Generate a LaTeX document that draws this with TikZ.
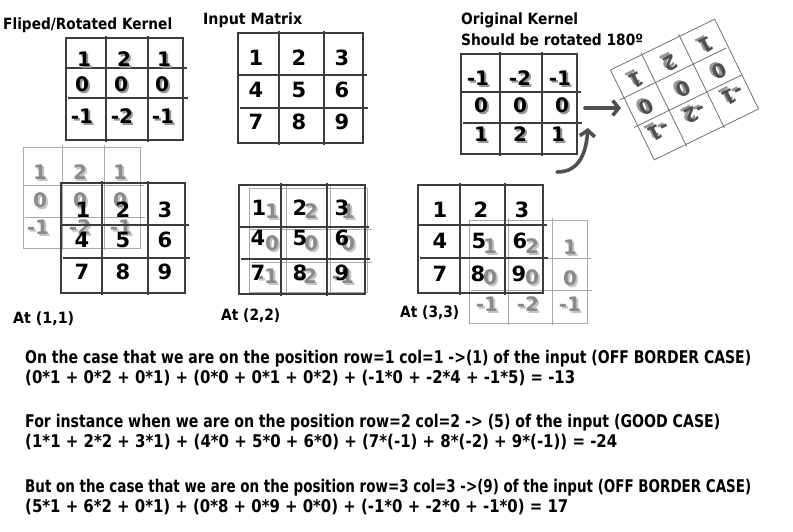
\documentclass[tikz,border=0pt]{standalone}
\usepackage{fontspec}
\setmainfont{DejaVu Sans}
\usepackage{graphicx}
\usetikzlibrary{arrows.meta}
\definecolor{gridc}{HTML}{3C3C3C}
\definecolor{lgrid}{HTML}{A8A8A8}
\definecolor{rgrid}{HTML}{707070}
\definecolor{numg}{HTML}{8A8A8A}
\definecolor{shg}{HTML}{C4C4C4}
\definecolor{shk}{HTML}{959595}
\definecolor{arrc}{HTML}{505050}
\newcommand\fitw[2]{\resizebox{#1}{\height}{#2}}
\newcommand\shd[2]{\makebox[0pt][l]{\hspace{2pt}\raisebox{-2.5pt}[0pt][0pt]{\textcolor{#1}{#2}}}#2}
\newcounter{nn}
% grid: [style]{left}{c1}{c2}{right}{top}{r1}{r2}{bottom}
\newcommand\mgrid[9][blk]{%
  \draw[#1] (#2,#6) rectangle (#5,#9);
  \draw[#1] (#3,#6-2) -- (#3,#9+2) (#4,#6-2) -- (#4,#9+2);
  \draw[#1] (#2,#7) -- (#5+4,#7) (#2+2,#8) -- (#5+5,#8);
}
% big black digit
\newcommand\bn[3]{\stepcounter{nn}\node[big] (b\thenn) at (#1,#2) {#3};}
% kernel digit with shadow
\newcommand\kn[3]{\stepcounter{nn}\node[knum] (k\thenn) at (#1,#2) {\shd{shk}{#3}};}
% gray kernel digit with shadow
\newcommand\gn[3]{\stepcounter{nn}\node[knum,text=numg] (g\thenn) at (#1,#2) {\shd{shg}{#3}};}
\begin{document}
\begin{tikzpicture}[x=1pt,y=-1pt,
  txt/.style={anchor=base west,inner sep=0pt,font=\fontsize{17.5}{20}\selectfont\bfseries},
  ttl/.style={anchor=base west,inner sep=0pt,font=\fontsize{15.5}{18}\selectfont\bfseries},
  big/.style={inner sep=0pt,font=\fontsize{21}{23}\selectfont\bfseries},
  knum/.style={inner sep=0pt,font=\fontsize{20}{22}\selectfont\bfseries},
  blk/.style={draw=gridc,line width=1.3pt},
  gry/.style={draw=lgrid,line width=0.9pt},
  rot/.style={draw=rgrid,line width=0.8pt},
  thickarrow/.style={draw=arrc,line width=3.6pt,line cap=round,-{Straight Barb[length=6pt,width=15pt]}}]
\useasboundingbox (0,0) rectangle (793,531);

% ---------------- titles ----------------
\node[ttl] (t1) at (3,29) {\fitw{169pt}{Fliped/Rotated Kernel}};
\node[ttl] (t2) at (203,24) {\fitw{99pt}{Input Matrix}};
\node[ttl] (t3) at (461,24) {\fitw{117pt}{Original Kernel}};
\node[ttl] (t4) at (461,45) {\fitw{182pt}{Should be rotated 180º}};

% ---------------- flipped kernel ----------------
\mgrid{66}{106}{148}{183}{38}{68}{98}{140}
\kn{84}{59}{1}\kn{124}{59}{2}\kn{164}{59}{1}
\kn{82}{84}{0}\kn{121}{84}{0}\kn{162}{84}{0}
\kn{82}{116}{-1}\kn{122}{116}{-2}\kn{163}{116}{-1}

% ---------------- input matrix ----------------
\mgrid{238}{279}{324}{363}{33}{75}{108}{143}
\bn{256}{57.5}{1}\bn{299}{57.5}{2}\bn{342}{57.5}{3}
\bn{256}{89.5}{4}\bn{299}{89.5}{5}\bn{342}{89.5}{6}
\bn{256}{121.5}{7}\bn{299}{121.5}{8}\bn{342}{121.5}{9}

% ---------------- original kernel ----------------
\mgrid{461}{500}{542}{577}{54}{92}{123}{154}
\kn{478}{78}{-1}\kn{520}{78}{-2}\kn{560}{78}{-1}
\kn{481}{105}{0}\kn{520}{105}{0}\kn{562}{105}{0}
\kn{481}{134}{1}\kn{520}{134}{2}\kn{558}{134}{1}

% ---------------- rotated kernel ----------------
\begin{scope}[shift={(684.5,89.5)},rotate=206]
  \draw[rot] (-58,-50) rectangle (58,50);
  \draw[rot] (-19,-52) -- (-19,52) (23,-52) -- (23,52);
  \draw[rot] (-58,-12) -- (62,-12) (-56,19) -- (63,19);
  \foreach \xx/\yy/\vv [count=\i] in {-41/-26/-1,1/-26/-2,41/-26/-1,-39/1/0,1/1/0,42/1/0,-39/30/1,1/30/2,39/30/1}{
    \node[knum,text=gridc!90,transform shape] (rk\i) at (\xx,\yy) {\shd{shk}{\vv}};
  }
\end{scope}

% ---------------- arrows ----------------
\coordinate (a1s) at (585,108);
\coordinate (a1e) at (621,108);
\coordinate (a2s) at (557,172);
\coordinate (a2e) at (588,128);
\draw[thickarrow] (a1s) -- (a1e);
\draw[thickarrow] (a2s) .. controls (580,172) and (586,152) .. (a2e);

% ---------------- At (1,1) ----------------
\mgrid[gry]{23}{62}{104}{140}{147}{185}{217}{248}
\gn{40}{172}{1}\gn{80}{172}{2}\gn{120}{172}{1}
\gn{40}{200}{0}\gn{80}{200}{0}\gn{120}{200}{0}
\gn{38}{227}{-1}\gn{80}{227}{-2}\gn{121}{227}{-1}
\mgrid{61}{102}{148}{185}{183}{225}{258}{293}
\bn{83}{209.5}{1}\bn{123}{209.5}{2}\bn{165}{210}{3}
\bn{82}{240}{4}\bn{123}{240}{5}\bn{165}{240}{6}
\bn{82}{271.5}{7}\bn{123}{271.5}{8}\bn{165}{271.5}{9}
\node[ttl] (at1) at (13,323) {\fitw{61pt}{At (1,1)}};

% ---------------- At (2,2) ----------------
\mgrid[gry]{249}{286}{330}{367}{188}{229}{262}{292}
\gn{272}{211}{1}\gn{311}{211}{2}\gn{348}{211}{1}
\gn{272}{243}{0}\gn{311}{243}{0}\gn{348}{243}{0}
\gn{267}{276}{-1}\gn{306}{276}{-2}\gn{343}{276}{-1}
\mgrid{239}{281}{327}{365}{185}{227}{259}{294}
\bn{259}{208}{1}\bn{300}{208}{2}\bn{342}{208}{3}
\bn{258}{238}{4}\bn{300}{238}{5}\bn{342}{238}{6}
\bn{258}{273}{7}\bn{300}{273}{8}\bn{342}{273}{9}
\node[ttl] (at2) at (221,320) {\fitw{59pt}{At (2,2)}};

% ---------------- At (3,3) ----------------
\mgrid[gry]{469}{508}{552}{587}{220}{258}{290}{323}
\gn{490}{246}{1}\gn{532}{246}{2}\gn{570}{247}{1}
\gn{490}{277}{0}\gn{532}{277}{0}\gn{570}{278}{0}
\gn{487}{304}{-1}\gn{528}{304}{-2}\gn{570}{304}{-1}
\mgrid{418}{460}{505}{543}{185}{225}{258}{293}
\bn{440}{210}{1}\bn{481}{210}{2}\bn{522}{210}{3}
\bn{440}{241}{4}\bn{479}{241}{5}\bn{520}{241}{6}
\bn{440}{274}{7}\bn{478}{274}{8}\bn{519}{274}{9}
\node[ttl] (at3) at (400,317) {\fitw{59pt}{At (3,3)}};

% ---------------- explanation text ----------------
\node[txt] (l1) at (25,363) {\fitw{726pt}{On the case that we are on the position row=1 col=1 ->(1) of the input (OFF BORDER CASE)}};
\node[txt] (l2) at (25,383) {\fitw{550pt}{(0*1 + 0*2 + 0*1) + (0*0 + 0*1 + 0*2) + (-1*0 + -2*4 + -1*5) = -13}};
\node[txt] (l3) at (25,427) {\fitw{695pt}{For instance when we are on the position row=2 col=2 -> (5) of the input (GOOD CASE)}};
\node[txt] (l4) at (25,447) {\fitw{592pt}{(1*1 + 2*2 + 3*1) + (4*0 + 5*0 + 6*0) + (7*(-1) + 8*(-2) + 9*(-1)) = -24}};
\node[txt] (l5) at (25,492) {\fitw{726pt}{But on the case that we are on the position row=3 col=3 ->(9) of the input (OFF BORDER CASE)}};
\node[txt] (l6) at (25,512) {\fitw{543pt}{(5*1 + 6*2 + 0*1) + (0*8 + 0*9 + 0*0) + (-1*0 + -2*0 + -1*0) = 17}};
\end{tikzpicture}
\end{document}
